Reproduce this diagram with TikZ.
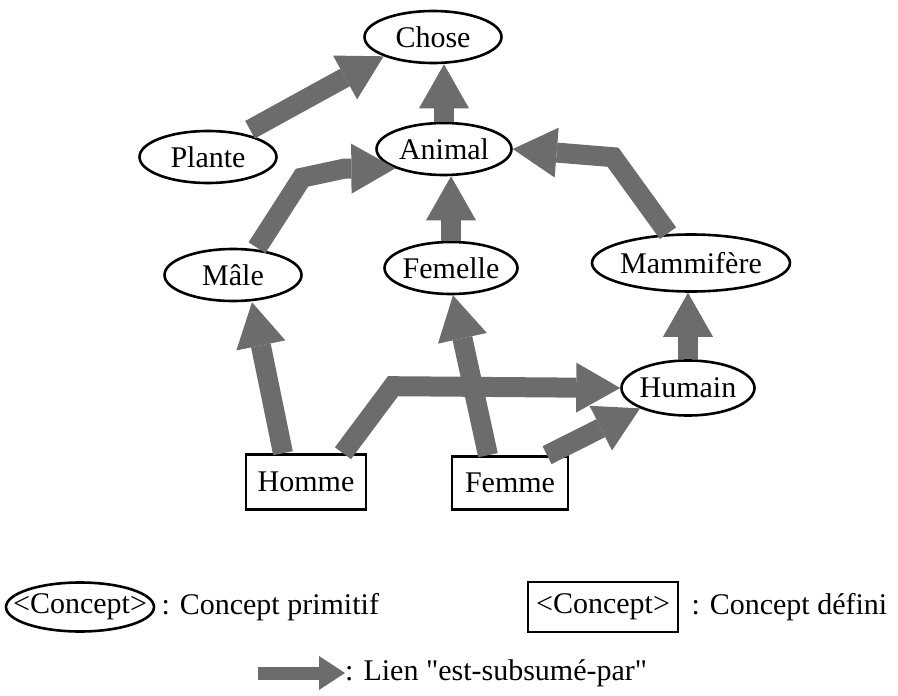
\documentclass[tikz,border=0pt]{standalone}
\usepackage{fontspec}
\setmainfont{Liberation Serif}
\usepackage{xcolor}
\definecolor{cLine}{HTML}{000000}
\definecolor{cLink}{HTML}{6C6C6C}
\usepackage{tikz}
\usetikzlibrary{positioning,arrows.meta,shapes.geometric}
\tikzset{
  node-prim/.style={draw=cLine,line width=2.6pt,ellipse,fill=white,
    inner xsep=-16pt,inner ysep=0pt,minimum height=52pt,
    font=\fontsize{30}{36}\selectfont},
  node-def/.style={draw=cLine,line width=2.6pt,rectangle,fill=white,
    inner sep=0pt,minimum height=53pt,font=\fontsize{30}{36}\selectfont},
  node-txt/.style={anchor=west,inner sep=0pt,font=\fontsize{30}{36}\selectfont},
  % lien est-subsume-par : grosse fleche grise
  arrow-isa/.style={-{Triangle[length=44pt,width=50pt,line width=0pt]},
    line width=20pt,draw=cLink,line join=miter},
  arrow-isa-small/.style={-{Triangle[length=26pt,width=34pt,line width=0pt]},
    line width=13pt,draw=cLink},
}
\begin{document}
\begin{tikzpicture}[x=1pt,y=-1pt]
  \useasboundingbox (0,0) rectangle (898,696);
  % concepts
  \node[node-prim,minimum width=137pt] (chose) at (433,37) {Chose};
  \node[node-prim,minimum width=137pt] (plante) at (208,157) {Plante};
  \node[node-prim,minimum width=135pt] (animal) at (444,149) {Animal};
  \node[node-prim,minimum width=137pt] (male) at (233,275) {Mâle};
  \node[node-prim,minimum width=133pt] (femelle) at (451,268) {Femelle};
  \node[node-prim,minimum width=198pt,minimum height=57pt] (mammifere) at (691,263) {Mammifère};
  \node[node-prim,minimum width=133pt,minimum height=55pt] (humain) at (688,388) {Humain};
  \node[node-def,minimum width=120pt,minimum height=55pt] (homme) at (306,482) {Homme};
  \node[node-def,minimum width=116pt] (femme) at (510,483) {Femme};

  % liens
  \draw[arrow-isa] ([xshift=42pt]plante.north) -- (chose.south west);
  \draw[arrow-isa] (animal.north) -- (animal.north |- chose.south);
  \draw[arrow-isa] ([xshift=24pt]male.north) -- ++(45,-70) -- ++(42,-9) -- (animal.south west);
  \draw[arrow-isa] (femelle.north) -- (femelle.north |- animal.south);
  \draw[arrow-isa] ([xshift=-23pt]mammifere.north) -- ++(-55,-76) -- (animal.east);
  \draw[arrow-isa] (humain.north) -- (humain.north |- mammifere.south);
  \draw[arrow-isa] ([xshift=-23pt]homme.north) -- ([xshift=19pt]male.south);
  \draw[arrow-isa] ([xshift=37pt]homme.north) -- ++(50,-67) -- (humain.west);
  \draw[arrow-isa] ([xshift=-22pt]femme.north) -- ([xshift=2pt]femelle.south);
  \draw[arrow-isa] ([xshift=37pt]femme.north) -- (humain.south west);

  % legende
  \node[node-prim,minimum width=148pt,minimum height=49pt] (leg-prim) at (80,607) {<Concept>};
  \node[node-txt,right=6pt of leg-prim] (leg-prim-txt) {: Concept primitif};
  \node[node-def,minimum width=150pt,minimum height=50pt] (leg-def) at (603,607) {<Concept>};
  \node[node-txt,right=12pt of leg-def] (leg-def-txt) {: Concept défini};
  \coordinate (leg-isa) at (258,673);
  \node[node-txt] (leg-isa-txt) at (345,673) {: Lien \textquotedbl est-subsumé-par\textquotedbl};
  \draw[arrow-isa-small] (leg-isa) -- (leg-isa-txt.west);
\end{tikzpicture}
\end{document}
